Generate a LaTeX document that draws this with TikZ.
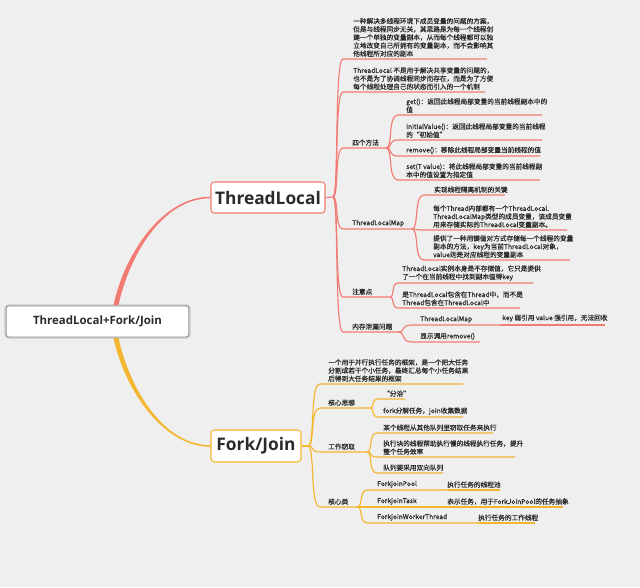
\documentclass[tikz,border=0pt]{standalone}
\usepackage{fontspec}
\setmainfont{Noto Sans CJK SC}[FakeBold=0.6]
\newfontfamily\osans{Open Sans}
\usetikzlibrary{calc}
\definecolor{bg}{HTML}{EFEFEF}
\definecolor{tlc}{HTML}{F27C74}
\definecolor{fjc}{HTML}{F5B62F}
\definecolor{txc}{HTML}{2B2B2B}
\definecolor{cgray}{HTML}{8E8E8E}
\definecolor{cring}{HTML}{CBCBCB}
\newcommand\mmtopic[8]{%
  \coordinate (#7s) at (#4,#6);
  \coordinate (#7e) at (#5,#6);
  \draw[#1] (#8) .. controls ({#2+0.6*(#4-#2)},#3) and ({#2+0.12*(#4-#2)},#6) .. (#7s) -- (#7e);}
\begin{document}
\begin{tikzpicture}[x=0.75pt,y=-0.75pt,
  tll/.style={draw=tlc, line width=0.85pt},
  fjl/.style={draw=fjc, line width=0.85pt},
  tx/.style={anchor=south west, inner sep=0pt, align=left, text=txc, font=\fontsize{5}{6.1}\selectfont},
  mainnode/.style={fill=white, line width=0.8pt, rounded corners=2.5pt, text=txc, inner sep=0pt, font=\osans\bfseries\fontsize{13}{15}\selectfont},
  cnode/.style={fill=white, draw=cgray, line width=0.6pt, rounded corners=2pt, text=txc, inner sep=0pt,
     preaction={draw=cring, line width=2.6pt}, font=\osans\bfseries\fontsize{8.6}{10}\selectfont}]
\useasboundingbox (0,0) rectangle (640,587);
\fill[bg] (0,0) rectangle (640,587);

% main nodes
\node[cnode, minimum width=137pt, minimum height=23.25pt] (c) at (97.5,321.5) {ThreadLocal+Fork/Join};
\node[mainnode, draw=tlc, minimum width=85.5pt, minimum height=23.25pt] (tl) at (268,197.5) {ThreadLocal};
\node[mainnode, draw=fjc, minimum width=67.5pt, minimum height=24pt] (fj) at (256,446) {Fork/Join};
\coordinate (cTop) at (116,305);
\coordinate (cBot) at (116,338);

% main tapered connectors
\fill[tlc] ($(cTop)+(-2.5,0)$) .. controls (125.5,250) and (165,196.4) .. ($(tl.west)+(0,-0.8)$)
  -- ($(tl.west)+(0,0.8)$) .. controls (165,198) and (130.5,251) .. ($(cTop)+(2.5,0)$) -- cycle;
\fill[fjc] ($(cBot)+(-2.5,0)$) .. controls (125.5,393) and (165,446.8) .. ($(fj.west)+(0,0.8)$)
  -- ($(fj.west)+(0,-0.8)$) .. controls (165,445.2) and (130.5,392) .. ($(cBot)+(2.5,0)$) -- cycle;

% ThreadLocal branch
\coordinate (jTL) at (333,197);
\draw[tll] (tl.east) -- (jTL);
\mmtopic{tll}{333}{197}{343}{487}{59}{d1}{jTL}
\mmtopic{tll}{333}{197}{343}{485}{92}{d2}{jTL}
\mmtopic{tll}{333}{197}{343}{386}{148}{m4}{jTL}
\mmtopic{tll}{333}{197}{343}{412}{229}{map}{jTL}
\mmtopic{tll}{333}{197}{343}{390}{297}{note}{jTL}
\mmtopic{tll}{333}{197}{343}{398}{332}{mem}{jTL}

\mmtopic{tll}{386}{148}{398}{542}{115}{get}{m4e}
\mmtopic{tll}{386}{148}{398}{542}{140}{ini}{m4e}
\mmtopic{tll}{386}{148}{398}{540}{156}{rem}{m4e}
\mmtopic{tll}{386}{148}{398}{540}{180}{set}{m4e}

\mmtopic{tll}{412}{229}{424}{505}{195}{key}{mape}
\mmtopic{tll}{412}{229}{424}{567}{230}{each}{mape}
\mmtopic{tll}{412}{229}{424}{570}{260}{prov}{mape}

\mmtopic{tll}{390}{297}{398}{533}{283}{inst}{notee}
\mmtopic{tll}{390}{297}{398}{520}{308}{cont}{notee}

\mmtopic{tll}{398}{332}{412}{500}{325}{tlm}{meme}
\coordinate (wk) at (605,325);
\draw[tll] (tlme) -- (wk);
\mmtopic{tll}{398}{332}{412}{480}{342}{rm}{meme}

\node[tx] (t1) at (353,57) {一种解决多线程环境下成员变量的问题的方案，\\但是与线程同步无关，其思路是为每一个线程创\\建一个单独的变量副本，从而每个线程都可以独\\立地改变自己所拥有的变量副本，而不会影响其\\他线程所对应的副本};
\node[tx] (t2) at (353,90) {ThreadLocal 不是用于解决共享变量的问题的，\\也不是为了协调线程同步而存在，而是为了方便\\每个线程处理自己的状态而引入的一个机制};
\node[tx] (t3) at (352,146) {四个方法};
\node[tx] (t31) at (406,113) {get()：返回此线程局部变量的当前线程副本中的\\值};
\node[tx] (t32) at (406,138) {initialValue()：返回此线程局部变量的当前线程\\的“初始值”};
\node[tx] (t33) at (406,154) {remove()：移除此线程局部变量当前线程的值};
\node[tx] (t34) at (406,178) {set(T value)：将此线程局部变量的当前线程副\\本中的值设置为指定值};
\node[tx] (t4) at (352,227) {ThreadLocalMap};
\node[tx] (t41) at (434,193) {实现线程隔离机制的关键};
\node[tx] (t42) at (433,228) {每个Thread内部都有一个ThreadLocal.\\ThreadLocalMap类型的成员变量，该成员变量\\用来存储实际的ThreadLocal变量副本。};
\node[tx] (t43) at (433,258) {提供了一种用键值对方式存储每一个线程的变量\\副本的方法，key为当前ThreadLocal对象，\\value则是对应线程的变量副本};
\node[tx] (t5) at (352,295) {注意点};
\node[tx] (t51) at (402,281) {ThreadLocal实例本身是不存储值，它只是提供\\了一个在当前线程中找到副本值得key};
\node[tx] (t52) at (402,306) {是ThreadLocal包含在Thread中，而不是\\Thread包含在ThreadLocal中};
\node[tx] (t6) at (352,330) {内存泄漏问题};
\node[tx] (t61) at (420,323) {ThreadLocalMap};
\node[tx] (t611) at (502,322) {key 弱引用 value 强引用，无法回收};
\node[tx] (t62) at (420,340) {显示调用remove()};

% Fork/Join branch
\coordinate (jFJ) at (308,446);
\draw[fjl] (fj.east) -- (jFJ);
\mmtopic{fjl}{308}{446}{320}{463}{384}{fd}{jFJ}
\mmtopic{fjl}{308}{446}{320}{370}{408}{core}{jFJ}
\mmtopic{fjl}{308}{446}{320}{367}{452}{steal}{jFJ}
\mmtopic{fjl}{308}{446}{320}{357}{507}{cls}{jFJ}

\mmtopic{fjl}{370}{408}{378}{405}{399}{fz}{coree}
\mmtopic{fjl}{370}{408}{378}{463}{417}{fk}{coree}

\mmtopic{fjl}{367}{452}{377}{493}{433}{sa}{steale}
\mmtopic{fjl}{367}{452}{377}{515}{457}{sb}{steale}
\mmtopic{fjl}{367}{452}{377}{443}{473}{sc}{steale}

\mmtopic{fjl}{357}{507}{368}{447}{490}{pp}{clse}
\coordinate (ppc) at (500,490);
\draw[fjl] (ppe) -- (ppc);
\mmtopic{fjl}{357}{507}{368}{447}{507}{tt}{clse}
\coordinate (ttc) at (563,507);
\draw[fjl] (tte) -- (ttc);
\mmtopic{fjl}{357}{507}{368}{478}{523}{ww}{clse}
\coordinate (wwc) at (535,523);
\draw[fjl] (wwe) -- (wwc);

\node[tx] (f1) at (328,382) {一个用于并行执行任务的框架，是一个把大任务\\分割成若干个小任务，最终汇总每个小任务结果\\后得到大任务结果的框架};
\node[tx] (f2) at (328,406) {核心思想};
\node[tx] (f21) at (383,397) {“分治”};
\node[tx] (f22) at (383,415) {fork分解任务，join收集数据};
\node[tx] (f3) at (328,450) {工作窃取};
\node[tx] (f31) at (383,431) {某个线程从其他队列里窃取任务来执行};
\node[tx] (f32) at (383,455) {执行块的线程帮助执行慢的线程执行任务，提升\\整个任务效率};
\node[tx] (f33) at (383,471) {队列要采用双向队列};
\node[tx] (f4) at (328,505) {核心类};
\node[tx] (f41) at (377,488) {ForkjoinPool};
\node[tx] (f411) at (447,488) {执行任务的线程池};
\node[tx] (f42) at (377,505) {ForkjoinTask};
\node[tx] (f421) at (447,505) {表示任务，用于ForkJoinPool的任务抽象};
\node[tx] (f43) at (377,521) {ForkjoinWorkerThread};
\node[tx] (f431) at (478,521) {执行任务的工作线程};
\end{tikzpicture}
\end{document}
